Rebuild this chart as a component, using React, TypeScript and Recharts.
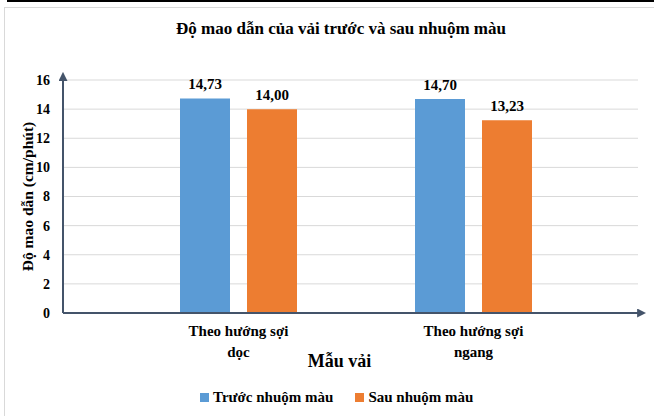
import React from 'react';
import { BarChart, Bar, XAxis, YAxis, CartesianGrid, Legend, LabelList, Label } from 'recharts';

const categories = ['Theo hướng sợi|dọc', 'Theo hướng sợi|ngang'];
const truocValues = [14.73, 14.7];
const sauValues = [14.0, 13.23];
const yTicks = [0, 2, 4, 6, 8, 10, 12, 14, 16];
const seriesNames = ['Trước nhuộm màu', 'Sau nhuộm màu'];
const seriesColors = ['#5B9BD5', '#ED7D31'];
const titleText = 'Độ mao dẫn của vải trước và sau nhuộm màu';
const yTitle = 'Độ mao dẫn (cm/phút)';
const xTitle = 'Mẫu vải';

const data = categories.map((c, i) => ({ name: c, truoc: truocValues[i], sau: sauValues[i] }));

const FONT = 'Liberation Serif';
const AXIS = '#44546A';

const fmt = (v: any) => Number(v).toFixed(2).replace('.', ',');

const XTick = (props: any) => {
  const { x, y, payload } = props;
  const lines = String(payload.value).split('|');
  return (
    <text x={x} y={y} textAnchor="middle" fontFamily={FONT} fontWeight="bold" fontSize={15} fill="#000" style={{ fontFamily: FONT }}>
      {lines.map((l, i) => (
        <tspan key={i} x={x} dy={i === 0 ? 15 : 21}>{l}</tspan>
      ))}
    </text>
  );
};

const LegendContent = () => (
  <div style={{ display: 'flex', alignItems: 'center', height: 20, paddingLeft: 200, fontFamily: FONT, fontWeight: 'bold', fontSize: 15, color: '#000' }}>
    {seriesNames.map((n, i) => (
      <div key={n} style={{ display: 'flex', alignItems: 'center', marginRight: i === 0 ? 22 : 0 }}>
        <span style={{ display: 'inline-block', width: 9, height: 9, background: seriesColors[i], marginRight: 4 }} />
        <span>{n}</span>
      </div>
    ))}
  </div>
);

export default function App() {
  return (
    <div style={{ position: 'absolute', left: 0, top: 0, width: 654, height: 416, background: '#fff', overflow: 'hidden', fontFamily: FONT }}>
      <div style={{ position: 'absolute', left: 7, top: 0, width: 647, height: 2, background: '#000' }} />
      <div style={{ position: 'absolute', left: 4, top: 7, width: 660, height: 420, border: '1px solid #d9d9d9', boxSizing: 'border-box' }} />
      <div style={{ position: 'absolute', left: 0, top: 19, width: 682, textAlign: 'center', fontFamily: FONT, fontWeight: 'bold', fontSize: 17, color: '#000' }}>
        {titleText}
      </div>
      <div style={{ position: 'absolute', left: 0, top: 0 }}>
        <BarChart width={654} height={416} data={data} margin={{ top: 80, right: 16, bottom: 9, left: 0 }} barSize={50} barGap={17} style={{ fontFamily: FONT }}>
          <defs>
            <marker id="arrowHead" viewBox="0 0 10 10" refX="1" refY="5" markerWidth="9" markerHeight="9" orient="auto-start-reverse" markerUnits="userSpaceOnUse">
              <path d="M0,0 L10,5 L0,10 z" fill={AXIS} />
            </marker>
          </defs>
          <CartesianGrid vertical={false} stroke="#d9d9d9" />
          <XAxis
            dataKey="name"
            height={74}
            padding={{ left: 58, right: 47 }}
            axisLine={{ stroke: AXIS, strokeWidth: 2, markerEnd: 'url(#arrowHead)' }}
            tickLine={false}
            tick={<XTick />}
            interval={0}
          >
            <Label
              content={(p: any) => {
                const vb = p.viewBox;
                return (
                  <text x={vb.x + vb.width / 2 - 11} y={vb.y + 54} textAnchor="middle" fontFamily={FONT} fontWeight="bold" fontSize={18} fill="#000" style={{ fontFamily: FONT, fontSize: 18, fontWeight: 700 }}>
                    {xTitle}
                  </text>
                );
              }}
            />
          </XAxis>
          <YAxis
            width={63}
            domain={[0, 16]}
            ticks={yTicks}
            interval={0}
            axisLine={{ stroke: AXIS, strokeWidth: 2, markerStart: 'url(#arrowHead)' }}
            tickLine={false}
            tickMargin={7}
            tick={{ fontFamily: FONT, fontWeight: 'bold', fontSize: 14, fill: '#000', style: { fontFamily: FONT } }}
          >
            <Label
              content={(p: any) => {
                const vb = p.viewBox;
                const cx = vb.x + 27;
                const cy = vb.y + vb.height / 2;
                return (
                  <text x={cx} y={cy} transform={`rotate(-90 ${cx} ${cy})`} textAnchor="middle" dominantBaseline="central" fontFamily={FONT} fontWeight="bold" fontSize={15.5} fill="#000" style={{ fontFamily: FONT }}>
                    {yTitle}
                  </text>
                );
              }}
            />
          </YAxis>
          <Legend verticalAlign="bottom" content={<LegendContent />} wrapperStyle={{ left: 0, width: 654 }} />
          <Bar dataKey="truoc" name={seriesNames[0]} fill={seriesColors[0]} isAnimationActive={false}>
            <LabelList dataKey="truoc" position="top" offset={9} formatter={fmt} fontFamily={FONT} fontWeight="bold" fontSize={15} fill="#000" style={{ fontFamily: FONT }} />
          </Bar>
          <Bar dataKey="sau" name={seriesNames[1]} fill={seriesColors[1]} isAnimationActive={false}>
            <LabelList dataKey="sau" position="top" offset={9} formatter={fmt} fontFamily={FONT} fontWeight="bold" fontSize={15} fill="#000" style={{ fontFamily: FONT }} />
          </Bar>
        </BarChart>
      </div>
    </div>
  );
}
